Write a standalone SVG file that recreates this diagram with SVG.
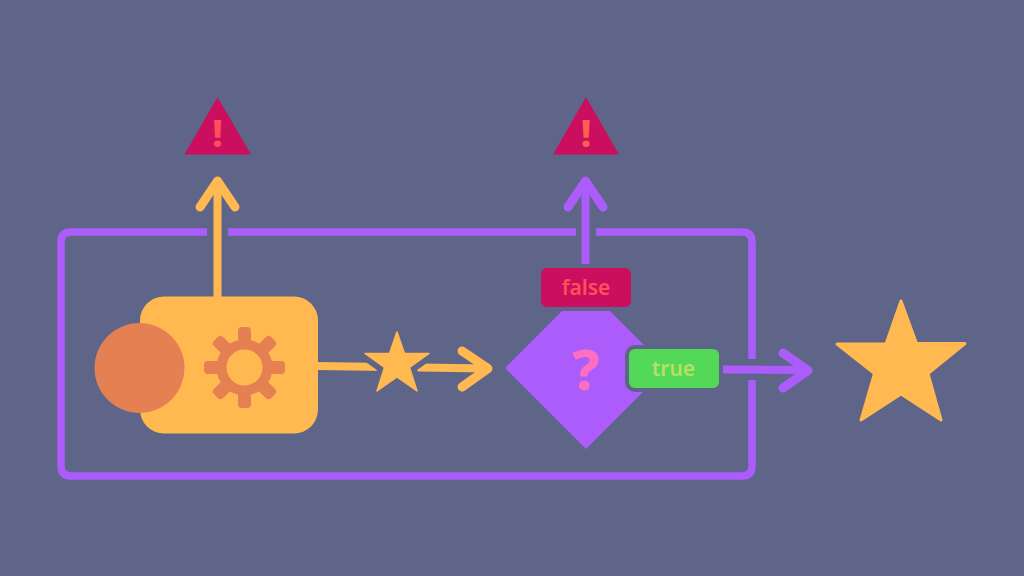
<svg xmlns="http://www.w3.org/2000/svg" width="1024" height="576" viewBox="0 0 1024 576">
<style>
.p{fill:none;stroke:#ab5cfa;stroke-width:8;stroke-linecap:butt;stroke-linejoin:round}
.y{fill:none;stroke:#ffb950;stroke-width:8;stroke-linecap:butt;stroke-linejoin:round}
.f{stroke-width:7.500}
.h{stroke-linecap:round;stroke-width:9}
.t{font-family:"Noto Sans","Open Sans",sans-serif;text-anchor:middle}
.tooth{fill:#e58052}
.halo{fill:none;stroke:#5f6589;stroke-width:8;stroke-linejoin:round}
.star{fill:#ffb950;stroke:#ffb950;stroke-width:3;stroke-linejoin:round}
.tri{fill:#c90f5e}
</style>
<rect width="1024" height="576" fill="#5f6589"/>
<g id="connectors">
<path class="p f" d="M207 232H71Q61 232 61 242V466Q61 476 71 476H742Q752 476 752 466V380M752 359V242Q752 232 742 232H596M576 232H228"/>
<path class="y" d="M217.500 297V181"/>
<path class="y h" d="M200 207L217.500 181L235 207"/>
<path class="p" d="M585.500 268V181"/>
<path class="p h" d="M568 207L585.500 181L603 207"/>
<path class="y" d="M318 366L488 368.500"/>
<path class="y h" d="M462 351L488 368.500L462 387"/>
<path class="p" d="M722 369.500L808 370"/>
<path class="p h" d="M783 353L808 370.500L783 388"/>
</g>
<g id="process">
<rect x="140" y="296.500" width="178" height="137" rx="24" fill="#ffb950"/>
<circle cx="139.500" cy="368" r="45" fill="#e58052"/>
<g transform="translate(244.500 367.500)">
<circle r="23" fill="none" stroke="#e58052" stroke-width="10"/>
<rect class="tooth" x="-6.500" y="-40.500" width="13" height="18" rx="4"/>
<rect class="tooth" x="-6.500" y="-40.500" width="13" height="18" rx="4" transform="rotate(45)"/>
<rect class="tooth" x="-6.500" y="-40.500" width="13" height="18" rx="4" transform="rotate(90)"/>
<rect class="tooth" x="-6.500" y="-40.500" width="13" height="18" rx="4" transform="rotate(135)"/>
<rect class="tooth" x="-6.500" y="-40.500" width="13" height="18" rx="4" transform="rotate(180)"/>
<rect class="tooth" x="-6.500" y="-40.500" width="13" height="18" rx="4" transform="rotate(225)"/>
<rect class="tooth" x="-6.500" y="-40.500" width="13" height="18" rx="4" transform="rotate(270)"/>
<rect class="tooth" x="-6.500" y="-40.500" width="13" height="18" rx="4" transform="rotate(315)"/>
</g>
</g>
<g id="token">
<path class="halo" style="stroke-width:13" d="M397 332L404.500 353.500H429L409.500 367.500L417 391L397 377L377 391L384.500 367.500L365 353.500H389.500Z"/>
<path class="star" style="stroke-width:1.500" d="M397 332L404.500 353.500H429L409.500 367.500L417 391L397 377L377 391L384.500 367.500L365 353.500H389.500Z"/>
</g>
<g id="decision">
<path d="M586 287L667 368L586 449L505 368Z" fill="#ab5cfa"/>
<text class="t" x="586" y="390" font-size="56" font-weight="800" fill="#ff6fc0">?</text>
</g>
<g id="false-label">
<rect class="halo" x="541" y="268" width="90" height="39" rx="6"/>
<rect x="541" y="268" width="90" height="39" rx="6" fill="#c90f5e"/>
<text class="t" x="586" y="295" font-size="21" font-weight="600" fill="#ff4f5a">false</text>
</g>
<g id="true-label">
<rect class="halo" x="629" y="349" width="90" height="39" rx="6"/>
<rect x="629" y="349" width="90" height="39" rx="6" fill="#54d858"/>
<text class="t" x="673.500" y="376" font-size="21" font-weight="600" fill="#b6e065">true</text>
</g>
<g id="warning-left">
<path class="tri" d="M217.500 97L251 154.500H184.500Z"/>
<text class="t" x="217.500" y="147" font-size="37" font-weight="800" fill="#ff4f5a">!</text>
</g>
<g id="warning-right">
<path class="tri" d="M586 97L619 154.500H553Z"/>
<text class="t" x="586" y="147" font-size="37" font-weight="800" fill="#ff5f50">!</text>
</g>
<g id="end-star">
<path class="star" d="M901 301L916.500 343.500H965L928 373.500L941 420L901 394L861 420L874.500 373.500L837 344H886Z"/>
</g>
</svg>
